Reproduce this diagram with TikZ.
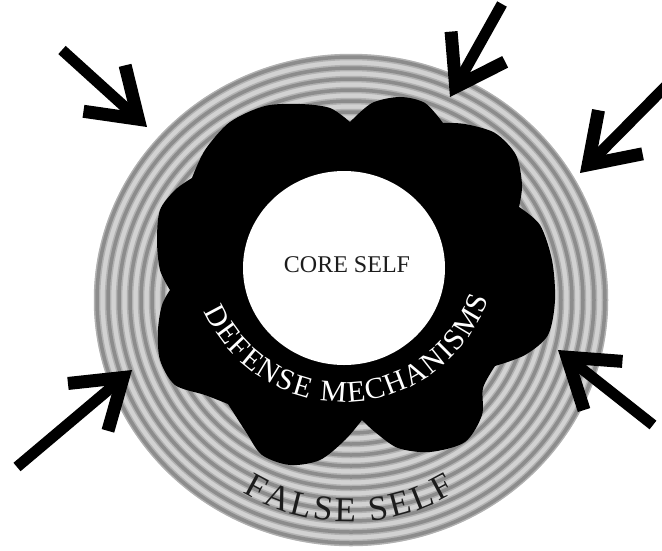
\documentclass[tikz,border=0pt]{standalone}
\usepackage{fontspec}
\setmainfont{Liberation Serif}
\usetikzlibrary{arrows.meta,decorations.text}
\definecolor{ringlight}{RGB}{210,210,210}
\definecolor{ringmid}{RGB}{178,178,178}
\definecolor{ringdark}{RGB}{140,140,140}
\definecolor{ink}{RGB}{28,28,28}

\begin{document}
\begin{tikzpicture}[x=1pt, y=-1pt,
  stripe/.style={draw=ringdark, line width=3.5pt},
  stripesoft/.style={draw=ringmid, line width=6.5pt},
  push/.style={line width=11pt, -{Straight Barb[length=46pt, width=62pt, line width=13pt]}},
  corelabel/.style={font=\fontsize{24}{28}\selectfont, text=ink},
]
\useasboundingbox (0,0) rectangle (662,550);
\clip (0,0) rectangle (662,550);
\coordinate (ring) at (351,300);
\coordinate (core) at (344,268);
\coordinate (defc) at (344,249);
\coordinate (falsec) at (349,315);

\fill[ringlight] (ring) ellipse [x radius=257, y radius=246];
\foreach \k in {0,...,15}{
  \draw[stripesoft] (ring) ellipse [x radius=254-11*\k, y radius=243-11*\k];
  \draw[stripe] (ring) ellipse [x radius=254-11*\k, y radius=243-11*\k];
}

\fill[black] plot[smooth] coordinates {(350,122) (372,103) (400,97) (425,103) (443,123)}
  -- plot[smooth] coordinates {(443,123) (465,124) (495,133) (516,155) (522,185) (519,207)}
  -- plot[smooth] coordinates {(519,207) (540,225) (552,260) (555,300) (548,335) (525,355) (495,366)}
  -- plot[smooth] coordinates {(495,366) (483,388) (482,415) (465,442) (430,452) (398,448) (375,432) (362,420)}
  -- plot[smooth] coordinates {(362,420) (345,440) (320,460) (290,465) (262,455) (246,432) (228,404)}
  -- plot[smooth] coordinates {(228,404) (205,395) (175,385) (160,360) (158,330) (162,305) (170,290)}
  -- plot[smooth] coordinates {(170,290) (160,270) (157,240) (160,210) (175,190) (192,178)}
  -- plot[smooth] coordinates {(192,178) (205,150) (230,122) (265,106) (300,104) (330,108) (350,122)}
  -- cycle;

\fill[white] (core) ellipse [x radius=101, y radius=97];
\node[corelabel, anchor=base] (coretext) at (347,272) {CORE SELF};

\path[decorate, decoration={text along path, text align={fit to path}, text color=white,
  text={|\fontsize{30}{34}\selectfont|DEFENSE MECHANISMS}}]
  (defc) ++(156:153) arc[start angle=156, end angle=19, radius=153];
\path[decorate, decoration={text along path, text align={fit to path}, text color=ink,
  text={|\fontsize{35}{40}\selectfont|FALSE SELF}}]
  (falsec) ++(121:207) arc[start angle=121, end angle=59, radius=207];

\coordinate (t1) at (62,50);   \coordinate (h1) at (147,127);
\coordinate (t2) at (502,4);   \coordinate (h2) at (450,97);
\coordinate (t3) at (675,77);  \coordinate (h3) at (580,173);
\coordinate (t4) at (17,467);  \coordinate (h4) at (132,370);
\coordinate (t5) at (653,425); \coordinate (h5) at (558,350);
\foreach \i in {1,...,5}
  \draw[push] (t\i) -- (h\i);
\end{tikzpicture}
\end{document}
